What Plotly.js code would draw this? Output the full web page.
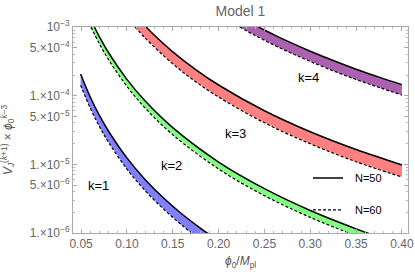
<!DOCTYPE html>
<html>
<head>
<meta charset="utf-8">
<script src="https://cdn.plot.ly/plotly-3.0.1.min.js"></script>
<style>html,body{margin:0;padding:0;background:#fff;}#chart{width:415px;height:275px;}</style>
</head>
<body>
<div id="chart"></div>
<script>
// k=1 (N=50 solid, N=60 dashed)
const x1Solid = [0.0495, 0.06, 0.07, 0.08, 0.10, 0.12, 0.14, 0.16, 0.18, 0.19];
const y1Solid = [2.07e-4, 9.57e-5, 5.16e-5, 3.03e-5, 1.24e-5, 5.98e-6, 3.23e-6, 1.89e-6, 1.18e-6, 9.5e-7];
const x1Dash  = [0.0495, 0.06, 0.07, 0.08, 0.10, 0.12, 0.14, 0.16, 0.175];
const y1Dash  = [1.42e-4, 6.60e-5, 3.56e-5, 2.09e-5, 8.55e-6, 4.12e-6, 2.23e-6, 1.30e-6, 9.1e-7];
// k=2
const x2Solid = [0.0645, 0.07, 0.08, 0.10, 0.12, 0.15, 0.20, 0.25, 0.30, 0.35, 0.37];
const y2Solid = [1.0e-3, 7.20e-4, 4.22e-4, 1.729e-4, 8.34e-5, 3.42e-5, 1.08e-5, 4.43e-6, 2.13e-6, 1.15e-6, 9.2e-7];
const x2Dash  = [0.0608, 0.07, 0.08, 0.10, 0.12, 0.15, 0.20, 0.25, 0.30, 0.35];
const y2Dash  = [1.0e-3, 5.70e-4, 3.34e-4, 1.368e-4, 6.60e-5, 2.70e-5, 8.55e-6, 3.50e-6, 1.69e-6, 9.1e-7];
// k=3
const x3Solid = [0.121, 0.13, 0.15, 0.175, 0.20, 0.25, 0.30, 0.35, 0.40];
const y3Solid = [1.0e-3, 7.57e-4, 4.35e-4, 2.40e-4, 1.43e-4, 6.03e-5, 2.98e-5, 1.64e-5, 9.78e-6];
const x3Dash  = [0.109, 0.12, 0.15, 0.175, 0.20, 0.25, 0.30, 0.35, 0.40];
const y3Dash  = [1.0e-3, 6.89e-4, 2.91e-4, 1.60e-4, 9.55e-5, 4.02e-5, 1.99e-5, 1.09e-5, 6.53e-6];
// k=4
const x4Solid = [0.2436, 0.26, 0.28, 0.30, 0.325, 0.35, 0.375, 0.40];
const y4Solid = [1.0e-3, 7.76e-4, 5.81e-4, 4.44e-4, 3.25e-4, 2.43e-4, 1.86e-4, 1.45e-4];
const x4Dash  = [0.223, 0.24, 0.26, 0.28, 0.30, 0.325, 0.35, 0.375, 0.40];
const y4Dash  = [1.0e-3, 7.51e-4, 5.50e-4, 4.12e-4, 3.15e-4, 2.30e-4, 1.72e-4, 1.32e-4, 1.02e-4];

const bandColors = ['rgb(128,128,255)', 'rgb(128,255,128)', 'rgb(255,128,128)', 'rgb(172,96,176)'];
const kLabels = ['k=1', 'k=2', 'k=3', 'k=4'];
const kLabelX = [0.0685, 0.1485, 0.2185, 0.2983];
const kLabelY = [4.85e-6, 9.5e-6, 2.86e-5, 1.87e-4];

const yTickVals = [1e-6, 5e-6, 1e-5, 5e-5, 1e-4, 5e-4, 1e-3];
const yTickText = ['1.×10<sup>−6</sup>', '5.×10<sup>−6</sup>', '1.×10<sup>−5</sup>', '5.×10<sup>−5</sup>', '1.×10<sup>−4</sup>', '5.×10<sup>−4</sup>', '10<sup>−3</sup>'];
const xTickVals = [0.05, 0.10, 0.15, 0.20, 0.25, 0.30, 0.35, 0.40];
const xTickText = ['0.05', '0.10', '0.15', '0.20', '0.25', '0.30', '0.35', '0.40'];

const bands = [
  [x1Solid, y1Solid, x1Dash, y1Dash],
  [x2Solid, y2Solid, x2Dash, y2Dash],
  [x3Solid, y3Solid, x3Dash, y3Dash],
  [x4Solid, y4Solid, x4Dash, y4Dash]
];

const traces = [];
bands.forEach((b, i) => {
  traces.push({
    x: b[0].concat(b[2].slice().reverse()),
    y: b[1].concat(b[3].slice().reverse()),
    mode: 'lines', fill: 'toself', fillcolor: bandColors[i],
    line: {width: 0, color: bandColors[i]}, showlegend: false, hoverinfo: 'skip'
  });
});
bands.forEach((b) => {
  traces.push({x: b[0], y: b[1], mode: 'lines', line: {color: '#000', width: 1.5, shape: 'spline'}, showlegend: false});
  traces.push({x: b[2], y: b[3], mode: 'lines', line: {color: '#000', width: 1.2, dash: '3px,2px', shape: 'spline'}, showlegend: false});
});

const minorY = [];
for (let e = -6; e < -3; e++) for (let d = 2; d <= 9; d++) minorY.push(d * Math.pow(10, e));
const minorX = [];
for (let v = 5; v <= 40; v++) minorX.push(v / 100);

const FONT = 'Liberation Sans, Arial, sans-serif';
const annotations = kLabels.map((t, i) => ({
  x: kLabelX[i], y: Math.log10(kLabelY[i]), xref: 'x', yref: 'y', text: t, showarrow: false,
  xanchor: 'center', yanchor: 'middle',
  font: {family: FONT, size: 13, color: '#000'}
}));
annotations.push({
  xref: 'paper', yref: 'paper', x: -0.194, y: 0.451, xanchor: 'center', yanchor: 'middle',
  textangle: -90, showarrow: false,
  text: '<i>V</i><sub><i>J</i></sub><sup>(<i>k</i>+1)</sup> × <i>ϕ</i><sub>0</sub><sup><i>k</i>−3</sup>',
  font: {family: FONT, size: 12, color: '#555'}
});
annotations.push({
  xref: 'paper', yref: 'paper', x: 0.5, y: -0.141, xanchor: 'center', yanchor: 'middle', showarrow: false,
  text: '<i>ϕ</i><sub>0</sub>/<i>M</i><sub>pl</sub>',
  font: {family: FONT, size: 12, color: '#555'}
});
annotations.push({xref: 'paper', yref: 'paper', x: 0.836, y: 0.267, xanchor: 'left', yanchor: 'middle', showarrow: false, text: 'N=50',
  font: {family: FONT, size: 11, color: '#000'}});
annotations.push({xref: 'paper', yref: 'paper', x: 0.836, y: 0.112, xanchor: 'left', yanchor: 'middle', showarrow: false, text: 'N=60',
  font: {family: FONT, size: 11, color: '#000'}});

const shapes = [
  {type: 'line', xref: 'paper', yref: 'paper', x0: 0.7164, x1: 0.806, y0: 0.267, y1: 0.267, line: {color: '#000', width: 1.5}},
  {type: 'line', xref: 'paper', yref: 'paper', x0: 0.7164, x1: 0.806, y0: 0.112, y1: 0.112, line: {color: '#000', width: 1.2, dash: '3px,2px'}}
];

const layout = {
  width: 415, height: 275,
  margin: {l: 73, r: 7, t: 27, b: 42},
  paper_bgcolor: '#fff', plot_bgcolor: '#fff',
  showlegend: false,
  title: {text: 'Model 1', x: 0.5, xref: 'paper', xanchor: 'center', y: 0.96, yanchor: 'middle',
    font: {family: FONT, size: 14, color: '#666'}},
  xaxis: {
    range: [0.0412, 0.4066], tickvals: xTickVals, ticktext: xTickText, automargin: false,
    ticks: 'inside', ticklen: 4, tickcolor: '#aaa', showgrid: false, zeroline: false,
    showline: true, linecolor: '#aaa', linewidth: 1, mirror: 'allticks',
    minor: {tickvals: minorX, ticks: 'inside', ticklen: 2, tickcolor: '#bbb', showgrid: false},
    tickfont: {family: FONT, size: 12, color: '#666'}
  },
  yaxis: {
    type: 'log', range: [-6, -3], tickvals: yTickVals, ticktext: yTickText, automargin: false,
    ticks: 'inside', ticklen: 4, tickcolor: '#aaa', showgrid: false, zeroline: false,
    showline: true, linecolor: '#aaa', linewidth: 1, mirror: 'allticks',
    minor: {tickvals: minorY, ticks: 'inside', ticklen: 2, tickcolor: '#bbb', showgrid: false},
    tickfont: {family: FONT, size: 12, color: '#666'}
  },
  annotations: annotations,
  shapes: shapes
};

Plotly.newPlot('chart', traces, layout, {staticPlot: true, displayModeBar: false});
</script>
</body>
</html>
